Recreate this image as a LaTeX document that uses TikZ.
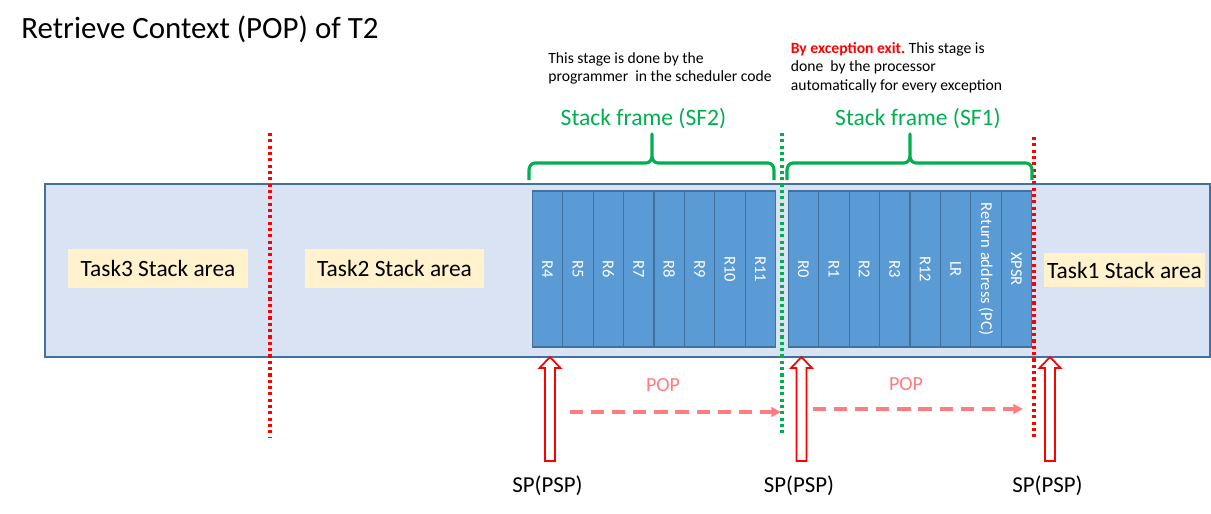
\documentclass[tikz,border=0pt]{standalone}
\usepackage{fontspec}
\setmainfont{Carlito}
\frenchspacing
\usetikzlibrary{arrows.meta}
\definecolor{areablue}{HTML}{DAE3F3}
\definecolor{cellblue}{HTML}{5B9BD5}
\definecolor{edgeblue}{HTML}{41719C}
\definecolor{taskyellow}{HTML}{FFF2CC}
\definecolor{framegreen}{HTML}{00B050}
\definecolor{poppink}{HTML}{FF7C80}

\begin{document}
\begin{tikzpicture}[x=0.02cm,y=-0.02cm,
    cell/.style={draw=edgeblue,fill=cellblue,line width=0.6pt,rotate=-90,minimum width=3.12cm,minimum height=0.608cm,inner sep=0pt,text=white,font=\fontsize{9.4}{10}\selectfont},
    taskbox/.style={fill=taskyellow,inner sep=0pt,minimum height=0.78cm,font=\fontsize{13.3}{15}\selectfont},
    boundary/.style={line width=1.9pt,dash pattern=on 1.8pt off 1.8pt},
    brace/.style={framegreen,line width=1.8pt,line join=round},
    framelabel/.style={text=framegreen,anchor=base,inner sep=0pt,font=\fontsize{13.4}{16}\selectfont},
    note/.style={align=left,anchor=north west,inner sep=0pt,font=\fontsize{8.9}{10.6}\selectfont},
    poplabel/.style={text=poppink,font=\fontsize{11.4}{13}\selectfont},
    popline/.style={poppink,line width=2pt,dash pattern=on 7.5pt off 4.5pt,-{Triangle[length=5.5pt,width=5.5pt]}},
    spmark/.style={draw=red,fill=white,line width=1pt},
    splabel/.style={font=\fontsize{13}{15}\selectfont}]
    \useasboundingbox (0,0) rectangle (1211,514);

    \node[anchor=base west,inner sep=0pt,font=\fontsize{17.6}{20}\selectfont] (title) at (21,38) {Retrieve Context (POP) of T2};

    \filldraw[draw=edgeblue,fill=areablue,line width=0.7pt] (45,184) rectangle (1210,357);

    \foreach \lbl [count=\i] in {R4,R5,R6,R7,R8,R9,R10,R11}
        \node[cell] (sfb\i) at ({532.3+30.42*(\i-0.5)},269) {\lbl};
    \foreach \lbl [count=\i] in {R0,R1,R2,R3,R12,LR,Return address (PC),XPSR}
        \node[cell] (sfa\i) at ({788.3+30.42*(\i-0.5)},269) {\lbl};

    \node[taskbox,minimum width=3.6cm] (task3) at (158,268.5) {Task3 Stack area};
    \node[taskbox,minimum width=3.58cm] (task2) at (394.5,268.5) {Task2 Stack area};
    \node[taskbox,minimum width=3.22cm,minimum height=0.68cm] (task1) at (1124.5,270) {Task1 Stack area};

    \draw[boundary,red] (270,133) -- (270,437);
    \draw[boundary,framegreen] (782,133) -- (782,436);
    \draw[boundary,red] (1034,137) -- (1034,439);

    \foreach \l/\m/\r in {529/652/774,787/910/1032}
        \draw[brace] (\l,180) -- (\l,170) to[out=90,in=180] (\l+6,163) -- (\m-6,163)
            to[out=0,in=-90] (\m,156) -- (\m,134) -- (\m,156) to[out=-90,in=180] (\m+6,163)
            -- (\r-6,163) to[out=0,in=90] (\r,170) -- (\r,180);
    \node[framelabel] (sf2) at (643.5,125) {Stack frame (SF2)};
    \node[framelabel] (sf1) at (918,125) {Stack frame (SF1)};

    \node[note] (prognote) at (548,52) {This stage is done by the\\programmer\ \ in the scheduler code};
    \node[note] (excnote) at (790.5,42) {\textcolor{red}{\textbf{By exception exit.}} This stage is\\done\ \ by the processor\\automatically for every exception};

    \node[poplabel] (pop1) at (663,385.5) {POP};
    \node[poplabel] (pop2) at (906,384) {POP};
    \coordinate (pop1s) at (570,412);
    \coordinate (pop1e) at (781,412);
    \coordinate (pop2s) at (813,409);
    \coordinate (pop2e) at (1023,409);
    \draw[popline] (pop1s) -- (pop1e);
    \draw[popline] (pop2s) -- (pop2e);

    \foreach \x/\n in {550/1,801.5/2,1050/3} {
        \draw[spmark] (\x-5,461) -- (\x-5,368) -- (\x-10.5,368) -- (\x,357) -- (\x+10.5,368)
            -- (\x+5,368) -- (\x+5,461) -- cycle;
        \node[splabel] (sp\n) at (\x-2.5,486) {SP(PSP)};
    }
\end{tikzpicture}
\end{document}
